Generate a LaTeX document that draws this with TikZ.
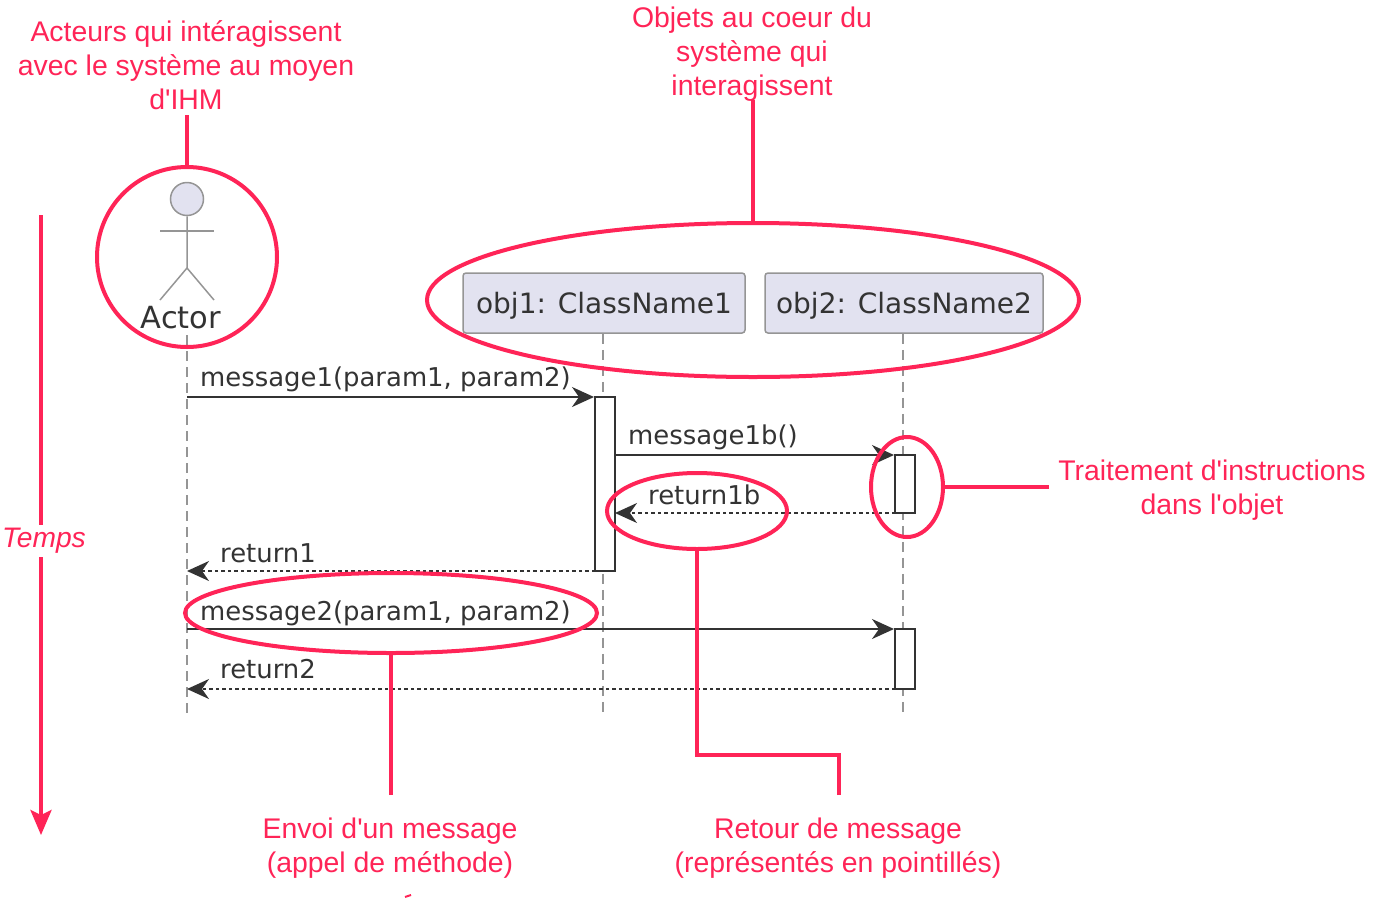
\documentclass[tikz,border=0pt]{standalone}
\usepackage{fontspec}
\setmainfont{Liberation Sans}
\newfontfamily\umlfont{DejaVu Sans}
\usetikzlibrary{arrows.meta,shapes.geometric}
\definecolor{notered}{HTML}{FF2457}
\definecolor{umlfill}{HTML}{E2E2F0}
\definecolor{umlline}{HTML}{959595}
\definecolor{umldark}{HTML}{333333}
\tikzset{
	note/.style={text=notered, font=\fontsize{28.4}{34}\selectfont, align=center, inner sep=1pt},
	notelink/.style={draw=notered, line width=4pt},
	ring/.style={ellipse, draw=notered, line width=4pt, inner sep=0pt},
	participant/.style={draw=umlline, fill=umlfill, line width=1.5pt, rounded corners=3pt, minimum height=60pt, inner sep=0pt, font=\umlfont\fontsize{28}{32}\selectfont, text=umldark, text depth=1pt},
	lifeline/.style={draw=umlline, line width=1.5pt, dash pattern=on 10pt off 6pt},
	activation/.style={draw=umldark, fill=white, line width=2pt, minimum width=20pt, inner sep=0pt},
	call/.style={draw=umldark, line width=2pt, -{Stealth[length=22pt,width=20pt,inset=7pt]}},
	reply/.style={draw=umldark, line width=1.8pt, dash pattern=on 3.5pt off 3pt, -{Stealth[length=22pt,width=20pt,inset=7pt]}},
	msg/.style={anchor=base west, inner sep=0pt, text=umldark, font=\umlfont\fontsize{25.9}{30}\selectfont},
	stick/.style={draw=umlline, line width=1.5pt}
}
\begin{document}
\begin{tikzpicture}[x=1pt,y=-1pt]
	\useasboundingbox (0,0) rectangle (1378,916);
	% sequence diagram
	\node[participant, minimum width=282pt] (obj1) at (604,303) {obj1: ClassName1};
	\node[participant, minimum width=278pt] (obj2) at (904,303) {obj2: ClassName2};
	\node[inner sep=0pt, text=umldark, font=\umlfont\fontsize{30.5}{32}\selectfont] (actor) at (181,318) {Actor};
	\coordinate (actorTop) at (187,335);
	\coordinate (actorEnd) at (187,715);
	\coordinate (obj1End) at (603,715);
	\coordinate (obj2End) at (903,715);
	\draw[lifeline] (actorTop) -- (actorEnd);
	\draw[lifeline] (obj1.south -| obj1End) -- (obj1End);
	\draw[lifeline] (obj2.south -| obj2End) -- (obj2End);
	\node[circle, draw=umlline, fill=umlfill, line width=1.5pt, minimum size=33pt, inner sep=0pt] (head) at (187,199) {};
	\coordinate (hip) at (187,268);
	\draw[stick] (head) -- (hip) -- (160,300);
	\draw[stick] (hip) -- (214,300);
	\draw[stick] (160,231) -- (214,231);
	\node[activation, minimum height=174pt] (act1) at (605,484) {};
	\node[activation, minimum height=58pt] (act2) at (905,484) {};
	\node[activation, minimum height=60pt] (act3) at (905,659) {};
	\coordinate (m1a) at (187,397);
	\coordinate (m1b) at (594,397);
	\coordinate (m2a) at (615,455);
	\coordinate (m2b) at (894,455);
	\coordinate (r1a) at (895,513);
	\coordinate (r1b) at (615,513);
	\coordinate (r2a) at (595,571);
	\coordinate (r2b) at (187,571);
	\coordinate (m3a) at (187,629);
	\coordinate (m3b) at (894,629);
	\coordinate (r3a) at (895,689);
	\coordinate (r3b) at (187,689);
	\draw[call] (m1a) -- (m1b);
	\draw[call] (m2a) -- (m2b);
	\draw[reply] (r1a) -- (r1b);
	\draw[reply] (r2a) -- (r2b);
	\draw[call] (m3a) -- (m3b);
	\draw[reply] (r3a) -- (r3b);
	\node[msg] (m1) at (200,386) {message1(param1, param2)};
	\node[msg] (m2) at (628,444) {message1b()};
	\node[msg] (r1) at (648,504) {return1b};
	\node[msg] (r2) at (220,562) {return1};
	\node[msg] (m3) at (200,620) {message2(param1, param2)};
	\node[msg] (r3) at (220,678) {return2};
	% annotations
	\node[ring, minimum width=180pt, minimum height=180pt] (ringActor) at (187,257) {};
	\node[ring, minimum width=652pt, minimum height=154pt] (ringObj) at (753,300) {};
	\node[ring, minimum width=180pt, minimum height=76pt] (ringRet) at (697,511) {};
	\node[ring, minimum width=72pt, minimum height=100pt] (ringAct) at (907,487) {};
	\node[ring, minimum width=412pt, minimum height=80pt] (ringMsg) at (391,613) {};
	\node[note] (noteActor) at (186,65) {Acteurs qui intéragissent\\avec le système au moyen\\d\textquotesingle IHM};
	\node[note] (noteObj) at (752,54) {Objets au coeur du\\système qui\\interagissent};
	\node[note] (noteAct) at (1212,490) {Traitement d\textquotesingle instructions\\dans l\textquotesingle objet};
	\node[note] (noteMsg) at (390,848.5) {Envoi d\textquotesingle un message\\(appel de méthode)};
	\node[note] (noteRet) at (838,848.5) {Retour de message\\(représentés en pointillés)};
	\coordinate (noteActorEnd) at (187,115);
	\coordinate (noteObjEnd) at (753,100);
	\coordinate (noteActEnd) at (1049,487);
	\coordinate (noteMsgEnd) at (391,795);
	\coordinate (noteRetEnd) at (839,795);
	\coordinate (noteRetBend) at (839,755);
	\coordinate (ringRetBend) at (697,755);
	\draw[notelink] (noteActorEnd) -- (ringActor.north);
	\draw[notelink] (noteObjEnd) -- (ringObj.north);
	\draw[notelink] (noteActEnd) -- (ringAct.east);
	\draw[notelink] (noteMsgEnd) -- (ringMsg.south);
	\draw[notelink] (noteRetEnd) -- (noteRetBend) -- (ringRetBend) -- (ringRet.south);
	% time axis
	\coordinate (timeTop) at (41,215);
	\coordinate (timeEnd) at (41,835);
	\draw[draw=notered, line width=4pt, -{Stealth[length=25pt,width=21pt,inset=5pt]}] (timeTop) -- (timeEnd);
	\node[note, fill=white, font=\itshape\fontsize{28.2}{34}\selectfont, inner ysep=3pt] (time) at (44,541) {Temps};
	% clipped accent at the bottom
	\draw[notered, line width=2pt] (405,897) -- (411,895);
\end{tikzpicture}
\end{document}
